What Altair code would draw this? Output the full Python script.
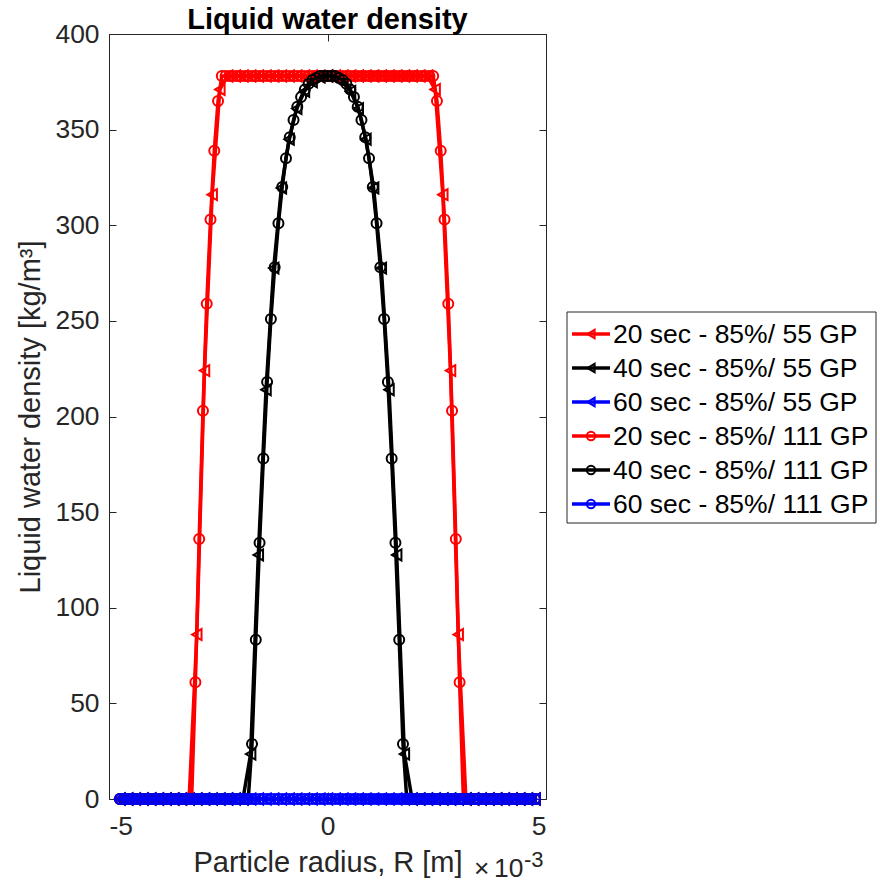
import altair as alt
import numpy as np
import pandas as pd

FONT = "Liberation Sans"
AX = "#262626"

# Grid (particle radius in units of 1e-3 m)
x55 = np.linspace(-4.75, 4.75, 55)
x111 = np.linspace(-4.75, 4.75, 111)

red_55 = [0]*10 + [86, 224, 316, 371] + [378]*27 + [371, 316, 224, 86] + [0]*10
black_55 = ([0]*17 + [23.5, 127.6, 214, 277.6, 319.5, 345, 361, 370, 375, 377.5] + [378]
            + [377.5, 375, 370, 361, 345, 319.5, 277.6, 214, 127.6, 23.5] + [0]*17)
blue_55 = [0]*55
red_111 = [0]*20 + [61, 136, 203, 259, 303, 339, 365] + [378]*57 + [365, 339, 303, 259, 203, 136, 61] + [0]*20
black_111 = ([0]*35 + [28.8, 83.3, 134, 178, 218, 251, 278, 301, 320, 335, 346, 355, 362, 367, 371, 374, 376, 377, 378, 378]
             + [378]
             + [378, 378, 377, 376, 374, 371, 367, 362, 355, 346, 335, 320, 301, 278, 251, 218, 178, 134, 83.3, 28.8]
             + [0]*35)
blue_111 = [0]*111

labels = ["20 sec - 85%/ 55 GP", "40 sec - 85%/ 55 GP", "60 sec - 85%/ 55 GP",
          "20 sec - 85%/ 111 GP", "40 sec - 85%/ 111 GP", "60 sec - 85%/ 111 GP"]
colors = ["#ff0000", "#000000", "#0000ff", "#ff0000", "#000000", "#0000ff"]
shapes = ["triangle-left"]*3 + ["circle"]*3
marker_sizes = [120]*3 + [100]*3
series_x = [x55, x55, x55, x111, x111, x111]
series_y = [red_55, black_55, blue_55, red_111, black_111, blue_111]

x_ticks = [-5, 0, 5]
y_ticks = [0, 50, 100, 150, 200, 250, 300, 350, 400]

frames = []
for lab, xs, ys in zip(labels, series_x, series_y):
    frames.append(pd.DataFrame({"r": xs, "v": ys, "series": lab}))
df = pd.concat(frames, ignore_index=True)

xscale = alt.Scale(domain=[-5, 5], nice=False, zero=False)
yscale = alt.Scale(domain=[0, 400], nice=False)

common_axis = dict(domain=False, grid=False, tickSize=7, offset=-7, tickColor=AX, tickWidth=1,
                   labelFont=FONT, labelFontSize=26.4, labelColor=AX,
                   titleFont=FONT, titleFontSize=29, titleFontWeight="normal", titleColor=AX,
                   labelExpr="'' + datum.value")

x_axis = alt.Axis(values=x_ticks, title="Particle radius, R [m]", labelPadding=14, titlePadding=9,
                  **common_axis)
y_axis = alt.Axis(values=y_ticks, title="Liquid water density [kg/m³]", labelPadding=10, titlePadding=9,
                  **common_axis)

layers = []
first = True
for lab, col, shp, msz in zip(labels, colors, shapes, marker_sizes):
    base = alt.Chart(df).transform_filter(alt.datum.series == lab)
    line = base.mark_line(color=col, strokeWidth=3.5).encode(
        x=alt.X("r:Q", scale=xscale, axis=x_axis if first else None),
        y=alt.Y("v:Q", scale=yscale, axis=y_axis if first else None),
    )
    pts = base.mark_point(color=col, shape=shp, filled=False, strokeWidth=2, size=msz, opacity=1).encode(
        x=alt.X("r:Q", scale=xscale, axis=None),
        y=alt.Y("v:Q", scale=yscale, axis=None),
    )
    layers += [line, pts]
    first = False

inner_axis = dict(domain=False, grid=False, tickSize=7, offset=-7, tickColor=AX, tickWidth=1,
                  labels=False, title=None)
frame_axes = alt.Chart(df).mark_point(opacity=0).encode(
    x=alt.X("r:Q", scale=xscale, axis=alt.Axis(orient="top", values=x_ticks, **inner_axis)),
    y=alt.Y("v:Q", scale=yscale, axis=alt.Axis(orient="right", values=y_ticks, **inner_axis)),
)

one = pd.DataFrame({"a": [0]})
exp_times = alt.Chart(one).mark_text(text="×", font=FONT, fontSize=26.4, color=AX,
                                     align="left", baseline="alphabetic").encode(
    x=alt.value(365), y=alt.value(843))
exp_base = alt.Chart(one).mark_text(text="10", font=FONT, fontSize=26.4, color=AX,
                                    align="left", baseline="alphabetic").encode(
    x=alt.value(385), y=alt.value(843))
exp_pow = alt.Chart(one).mark_text(text="-3", font=FONT, fontSize=22, color=AX,
                                   align="left", baseline="alphabetic").encode(
    x=alt.value(415), y=alt.value(833))

main = alt.layer(*layers, frame_axes, exp_times, exp_base, exp_pow).resolve_axis(
    x="independent", y="independent"
).properties(
    width=437, height=765,
    title=alt.Title("Liquid water density", font=FONT, fontSize=29, fontWeight="bold",
                    color="black", anchor="middle", offset=-14),
    view=alt.ViewBackground(stroke=AX, strokeWidth=1),
)

# Legend (drawn as its own small panel)
leg_df = pd.DataFrame({"label": labels, "color": colors, "shape": shapes})
ly = alt.Y("label:N", sort=labels, scale=alt.Scale(type="point", range=[300, 470], padding=0), axis=None)
lcolor = alt.Color("label:N", sort=labels, scale=alt.Scale(domain=labels, range=colors), legend=None)
lshape = alt.Shape("label:N", sort=labels, scale=alt.Scale(domain=labels, range=shapes), legend=None)

box = alt.Chart(one).mark_rect(fill="white", stroke=AX, strokeWidth=1).encode(
    x=alt.value(0), x2=alt.value(309), y=alt.value(278), y2=alt.value(489))
lrule = alt.Chart(leg_df).mark_rule(strokeWidth=3.5).encode(
    x=alt.value(5), x2=alt.value(43), y=ly, color=lcolor)
lpts = alt.Chart(leg_df).mark_point(filled=False, strokeWidth=2, size=70, opacity=1).encode(
    x=alt.value(24), y=ly, color=lcolor, shape=lshape)
ltext = alt.Chart(leg_df).mark_text(font=FONT, fontSize=26.5, color="black", align="left",
                                    baseline="middle", dy=1).encode(
    x=alt.value(46), y=ly, text="label:N")

legend = alt.layer(box, lrule, lpts, ltext).properties(
    width=310, height=765, view=alt.ViewBackground(stroke=None))

chart = alt.hconcat(main, legend, spacing=19).configure(
    padding={"left": 16, "top": 5, "right": 0, "bottom": 0}
).configure_view(stroke=None)

chart.save("out.html", embed_options={"renderer": "svg", "actions": False})
